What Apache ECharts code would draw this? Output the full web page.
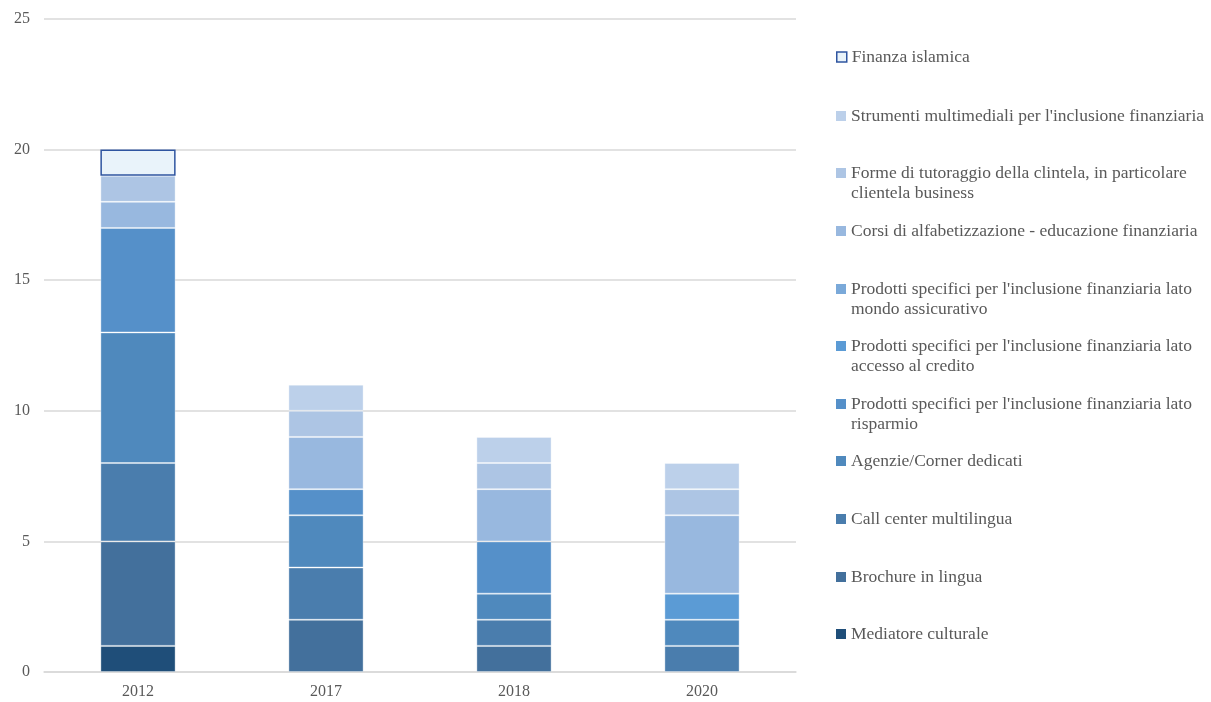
<!DOCTYPE html>
<html>
<head>
<meta charset="utf-8">
<script src="https://cdn.jsdelivr.net/npm/echarts@6/dist/echarts.min.js"></script>
<style>
  html, body { margin: 0; padding: 0; background: #ffffff; }
  #chart { width: 1211px; height: 702px; }
</style>
</head>
<body>
<div id="chart"></div>
<script>
// Anni di rilevazione
const years = ['2012', '2017', '2018', '2020'];

// Iniziative, dal basso verso l'alto della pila
const seriesNames = [
  'Mediatore culturale',
  'Brochure in lingua',
  'Call center multilingua',
  'Agenzie/Corner dedicati',
  "Prodotti specifici per l'inclusione finanziaria lato risparmio",
  "Prodotti specifici per l'inclusione finanziaria lato accesso al credito",
  "Prodotti specifici per l'inclusione finanziaria lato mondo assicurativo",
  'Corsi di alfabetizzazione - educazione finanziaria',
  'Forme di tutoraggio della clintela, in particolare clientela business',
  "Strumenti multimediali per l'inclusione finanziaria",
  'Finanza islamica'
];

// Etichette della legenda con gli a capo
const legendLabels = [
  'Mediatore culturale',
  'Brochure in lingua',
  'Call center multilingua',
  'Agenzie/Corner dedicati',
  "Prodotti specifici per l'inclusione finanziaria lato\nrisparmio",
  "Prodotti specifici per l'inclusione finanziaria lato\naccesso al credito",
  "Prodotti specifici per l'inclusione finanziaria lato\nmondo assicurativo",
  'Corsi di alfabetizzazione - educazione finanziaria',
  'Forme di tutoraggio della clintela, in particolare\nclientela business',
  "Strumenti multimediali per l'inclusione finanziaria",
  'Finanza islamica'
];

// Numero di banche per iniziativa e anno (null = assente)
const mediatore    = [1, null, null, null];
const brochure     = [4, 2, 1, null];
const callCenter   = [3, 2, 1, 1];
const agenzie      = [5, 2, 1, 1];
const risparmio    = [4, 1, 2, null];
const credito      = [null, null, null, 1];
const assicurativo = [null, null, null, null];
const corsi        = [1, 2, 2, 3];
const tutoraggio   = [1, 1, 1, 1];
const multimediali = [null, 1, 1, 1];
const islamica     = [1, null, null, null];

const seriesValues = [mediatore, brochure, callCenter, agenzie, risparmio, credito,
  assicurativo, corsi, tutoraggio, multimediali, islamica];

// Tacche dell'asse verticale
const yTicks = [0, 5, 10, 15, 20, 25];

const fills = ['#1f4e79', '#43709c', '#4a7dad', '#4f89bd', '#5590c9', '#5b9bd5',
  '#7aa9d9', '#98b8df', '#adc5e4', '#bcd0ea', '#e9f3fa'];

const FONT = '"Liberation Serif", "DejaVu Serif", serif';
const TEXT = '#595959';
const LAST = seriesNames.length - 1;

const series = seriesNames.map((name, i) => ({
  name: name,
  type: 'bar',
  stack: 'totale',
  barWidth: '40%',
  data: seriesValues[i],
  itemStyle: i === LAST
    ? { color: fills[i], borderColor: '#2f55a0', borderWidth: 1.5 }
    : { color: fills[i], borderColor: 'rgba(255,255,255,0.35)', borderWidth: 1 },
  emphasis: { disabled: true }
}));

// Una voce di legenda per iniziativa, impilate dall'alto (Finanza islamica) in giù.
// Per le voci su due righe si antepone una riga vuota, così la prima riga
// resta centrata sul quadratino.
const legendRowY = [634, 577, 519, 461, 404, 346, 289, 231, 173, 116, 57];
const legends = seriesNames.map((name, i) => {
  const twoLines = legendLabels[i].indexOf('\n') >= 0;
  const label = twoLines ? ' \n' + legendLabels[i] : legendLabels[i];
  return {
    orient: 'vertical',
    left: 836,
    top: legendRowY[i] - (twoLines ? 30 : 10),
    padding: 0,
    itemWidth: 10,
    itemHeight: 10,
    itemGap: 0,
    icon: 'rect',
    selectedMode: false,
    data: [{
      name: name,
      itemStyle: i === LAST
        ? { color: fills[i], borderColor: '#2f55a0', borderWidth: 1.5 }
        : { color: fills[i], borderWidth: 0 }
    }],
    formatter: () => label,
    textStyle: {
      color: TEXT, fontFamily: FONT, fontSize: 17.5, lineHeight: 20
    }
  };
});

const chart = echarts.init(document.getElementById('chart'), null, { renderer: 'canvas' });
chart.setOption({
  animation: false,
  backgroundColor: '#ffffff',
  grid: { left: 44, right: 415, top: 19, bottom: 30, containLabel: false },
  xAxis: {
    type: 'category',
    data: years,
    axisLine: { show: true, lineStyle: { color: '#d9d9d9', width: 1.5 } },
    axisTick: { show: false },
    axisLabel: { color: TEXT, fontFamily: FONT, fontSize: 16, margin: 12 }
  },
  yAxis: {
    type: 'value',
    min: yTicks[0],
    max: yTicks[yTicks.length - 1],
    interval: yTicks[1] - yTicks[0],
    axisLine: { show: false },
    axisTick: { show: false },
    splitLine: { lineStyle: { color: '#d9d9d9', width: 1.5 } },
    axisLabel: { color: TEXT, fontFamily: FONT, fontSize: 16, margin: 14 }
  },
  legend: legends,
  series: series
});
</script>
</body>
</html>
